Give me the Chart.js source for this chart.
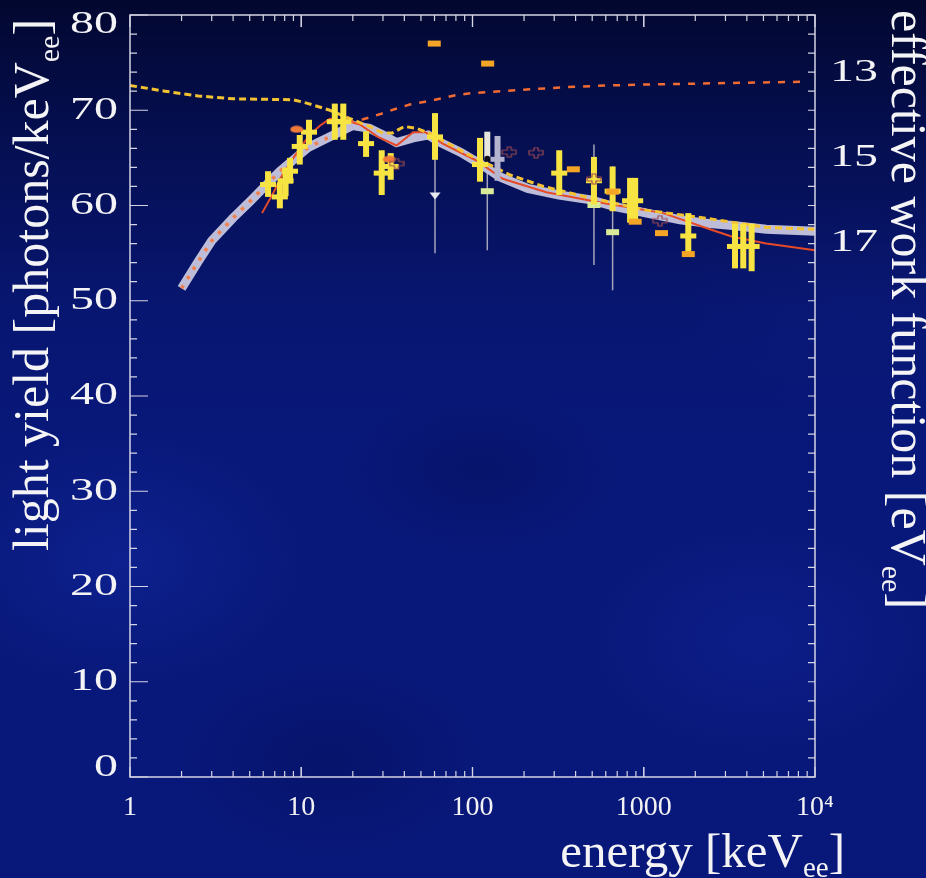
<!DOCTYPE html>
<html>
<head>
<meta charset="utf-8">
<script src="https://cdn.jsdelivr.net/npm/chart.js@4.4.1/dist/chart.umd.min.js"></script>
<style>
  html, body { margin: 0; padding: 0; }
  body {
    width: 926px; height: 878px; overflow: hidden;
    background:
      linear-gradient(to bottom, rgba(1, 3, 28, 0.8) 0%, rgba(1, 3, 28, 0.45) 15%, rgba(1, 3, 28, 0.1) 35%, rgba(1, 3, 28, 0) 50%),
      radial-gradient(ellipse 260px 180px at 120px 560px, rgba(22, 44, 170, 0.4), rgba(22, 44, 170, 0) 70%),
      radial-gradient(ellipse 200px 120px at 480px 470px, rgba(4, 12, 80, 0.35), rgba(4, 12, 80, 0) 70%),
      radial-gradient(ellipse 240px 160px at 760px 640px, rgba(20, 38, 160, 0.4), rgba(20, 38, 160, 0) 70%),
      radial-gradient(ellipse 220px 140px at 330px 760px, rgba(4, 12, 80, 0.35), rgba(4, 12, 80, 0) 70%),
      radial-gradient(ellipse 280px 160px at 860px 300px, rgba(16, 32, 140, 0.35), rgba(16, 32, 140, 0) 70%),
      #08187a;
  }
  canvas { display: block; }
</style>
</head>
<body>
<canvas id="lyChart" width="926" height="878"></canvas>
<script>
// model curves (energy in keVee, light yield in photons/keVee)
const bandE = [2, 2.5, 3, 4, 5, 7.5, 11, 15, 20, 25, 30, 36, 45, 55, 65, 85, 110, 145, 210, 320, 490, 670, 1040, 1630, 2430, 3300, 5200, 10000];
const bandLY = [51.3, 54.1, 56.3, 58.7, 60.4, 63.6, 66.1, 67.3, 68.4, 68.1, 67.4, 66.6, 67.1, 67.4, 66.6, 65.6, 64.4, 63.0, 61.8, 61.1, 60.6, 59.9, 59.2, 58.5, 58.1, 57.9, 57.5, 57.3];
const dottedUpTo = 16;

const goldE = [1, 1.6, 2.5, 4, 9, 11, 14.7, 20, 25, 30, 34, 40, 47, 56, 74, 93, 110, 166, 260, 460, 1040, 2430, 5200, 10000];
const goldLY = [72.6, 72.0, 71.5, 71.2, 71.1, 70.7, 70.0, 69.0, 68.3, 67.6, 67.6, 68.3, 68.1, 67.6, 66.4, 65.4, 64.8, 63.2, 62.0, 60.9, 59.5, 58.6, 57.7, 57.5];

const redE = [5.9, 6.9, 7.9, 9.4, 11.2, 12.9, 14.7, 18.4, 22, 28, 36, 45, 53, 67, 106, 150, 270, 600, 1300, 2430, 3330, 5200, 10000];
const redLY = [59.2, 61.4, 63.5, 65.5, 67.4, 68.4, 69.1, 68.9, 68.5, 67.2, 66.3, 67.7, 67.7, 66.5, 64.7, 62.8, 61.4, 60.2, 59.2, 57.5, 56.7, 56.0, 55.3];

const wfE = [18.5, 23, 29, 35, 43, 53, 66, 81, 99, 180, 330, 610, 1000, 9000];
const wfLY = [68.7, 69.05, 69.6, 70.1, 70.6, 70.9, 71.25, 71.6, 71.8, 72.1, 72.4, 72.6, 72.7, 73.0];

// measurements with error bars
const yelE = [6.4, 7.5, 8.1, 8.6, 9.8, 11.1, 15.7, 17.6, 23.9, 29.5, 33.3, 60.4, 110.6, 321, 512, 658, 832, 891, 1820, 3411, 3811, 4266];
const yelLY = [62.2, 60.9, 62.6, 63.6, 66.2, 67.7, 68.8, 68.8, 66.5, 63.4, 64.1, 67.2, 64.3, 63.4, 62.6, 61.5, 60.5, 60.5, 56.8, 55.7, 55.7, 55.7];
const yelLo = [60.9, 59.7, 61.0, 62.3, 64.3, 66.4, 66.9, 66.9, 65.1, 61.1, 62.7, 64.8, 62.5, 61.1, 60.1, 59.4, 58.2, 58.2, 55.0, 53.4, 53.4, 53.1];
const yelHi = [63.6, 62.4, 64.0, 65.0, 67.4, 69.0, 70.7, 70.7, 67.8, 65.8, 65.5, 69.7, 67.1, 65.8, 65.1, 64.1, 62.9, 62.9, 59.2, 58.1, 58.1, 58.1];

const thinE = [60.4, 122, 512, 658];
const thinLo = [55.0, 55.3, 53.75, 51.1];
const thinHi = [69.7, 67.7, 66.4, 64.1];

const paleE = [122, 140];
const paleLY = [66.3, 64.85];
const paleLo = [64.8, 62.6];
const paleHi = [67.75, 67.3];

const triE = [60.4];
const triLY = [61.0];
const greenE = [122, 512, 658];
const greenLY = [61.5, 60.05, 57.2];
const dotE = [122];
const dotLY = [64.9];

const orangeE = [59.8, 122.6, 388, 658, 891, 1270, 1820];
const orangeLY = [77.0, 74.9, 63.8, 61.45, 58.3, 57.1, 54.9];
const ovalE = [9.4, 32.7];
const ovalLY = [68.0, 64.85];
const hollowE = [36, 164, 235, 512, 1245];
const hollowLY = [64.4, 65.6, 65.55, 62.8, 58.4];

// axes
const energyTicks = [1, 10, 100, 1000, 10000];
const lyTicks = [0, 10, 20, 30, 40, 50, 60, 70, 80];
const wfTicks = [13, 15, 17];
const wfRange = [11.64, 29.56];

const pts = (xs, ys) => xs.map((x, i) => ({ x: x, y: ys[i] }));

function makeSprite(w, h, draw) {
  const c = document.createElement('canvas');
  c.width = w; c.height = h;
  draw(c.getContext('2d'), w, h);
  return c;
}

const ovalSprite = makeSprite(14, 8, (g, w, h) => {
  g.fillStyle = '#f07a3a';
  g.beginPath(); g.ellipse(w / 2, h / 2, 6.5, 3.6, 0, 0, Math.PI * 2); g.fill();
});
const hollowSprite = makeSprite(16, 12, (g) => {
  g.strokeStyle = '#9a4a52'; g.lineWidth = 1.2;
  g.beginPath();
  g.moveTo(6, 1); g.lineTo(10, 1); g.lineTo(10, 4); g.lineTo(15, 4); g.lineTo(15, 8);
  g.lineTo(10, 8); g.lineTo(10, 11); g.lineTo(6, 11); g.lineTo(6, 8); g.lineTo(1, 8);
  g.lineTo(1, 4); g.lineTo(6, 4); g.closePath(); g.stroke();
});
const triSprite = makeSprite(12, 8, (g) => {
  g.fillStyle = '#e8e8f0';
  g.beginPath(); g.moveTo(0.5, 0.5); g.lineTo(11.5, 0.5); g.lineTo(6, 7.5); g.closePath(); g.fill();
});

function curve(label, xs, ys, color, width, dash) {
  return {
    label: label, data: pts(xs, ys), showLine: true, fill: false, tension: 0,
    borderColor: color, borderWidth: width, borderDash: dash || [],
    pointRadius: 0, pointHoverRadius: 0
  };
}

function marks(label, xs, ys, style, opts) {
  return Object.assign({
    label: label, data: pts(xs, ys), showLine: false,
    pointStyle: style, pointRadius: 6, pointHoverRadius: 6,
    pointBackgroundColor: 'transparent', pointBorderColor: 'transparent', pointBorderWidth: 0
  }, opts || {});
}

const bandDotted = bandE.map((e, i) => [e, bandLY[i]]).filter(p => p[0] <= dottedUpTo);

// listed bottom to top
const layers = [
  Object.assign(marks('thin', thinE, thinE.map((e, i) => (thinLo[i] + thinHi[i]) / 2), 'circle', { pointRadius: 0 }),
    { yLow: thinLo, yHigh: thinHi, barColor: '#a4a4bc', barWidth: 1.5 }),
  marks('limit', triE, triLY, triSprite),
  curve('band', bandE, bandLY, '#bdbdd9', 9),
  curve('band dots', bandDotted.map(p => p[0]), bandDotted.map(p => p[1]), '#f2804c', 3.5, [3.5, 7.5]),
  curve('fit', redE, redLY, '#e64a26', 2),
  curve('model', goldE, goldLY, '#f2c232', 3, [7, 4]),
  curve('work function', wfE, wfLY, '#f26b32', 2.5, [7, 8]),
  marks('green', greenE, greenLY, 'line', { pointRadius: 6.5, pointBorderWidth: 6, pointBorderColor: '#d9ea98' }),
  Object.assign(marks('pale', paleE, paleLY, 'line', { pointRadius: [0, 7], pointBorderWidth: 5, pointBorderColor: '#b4b4ce' }),
    { yLow: paleLo, yHigh: paleHi, barColor: ['#e6e6dc', '#b4b4ce'], barWidth: 6 }),
  Object.assign(marks('data', yelE, yelLY, 'line', { pointRadius: 8, pointBorderWidth: 5, pointBorderColor: '#f7e443' }),
    { yLow: yelLo, yHigh: yelHi, barColor: '#f7e443', barWidth: 6 }),
  marks('dot', dotE, dotLY, 'circle', { pointRadius: 3, pointBackgroundColor: '#10101c' }),
  marks('orange', orangeE, orangeLY, 'line', { pointRadius: 6.5, pointBorderWidth: 6, pointBorderColor: '#f5a525' }),
  marks('oval', ovalE, ovalLY, ovalSprite),
  marks('hollow', hollowE, hollowLY, hollowSprite)
];
const datasets = layers.map((ds, i) => Object.assign(ds, { order: layers.length - i }));

const errorBars = {
  id: 'errorBars',
  beforeDatasetDraw(chart, args) {
    const ds = chart.data.datasets[args.index];
    if (!ds.yLow) return;
    const x = chart.scales.x, y = chart.scales.y, ctx = chart.ctx;
    ctx.save();
    ctx.lineWidth = ds.barWidth;
    ds.data.forEach((p, i) => {
      ctx.strokeStyle = Array.isArray(ds.barColor) ? ds.barColor[i] : ds.barColor;
      const px = x.getPixelForValue(p.x);
      ctx.beginPath();
      ctx.moveTo(px, y.getPixelForValue(ds.yLow[i]));
      ctx.lineTo(px, y.getPixelForValue(ds.yHigh[i]));
      ctx.stroke();
    });
    ctx.restore();
  }
};

function drawSubscripted(ctx, main, sub, tail, size) {
  // draws "main" + subscript + "tail" starting at the current origin, baseline at 0
  ctx.font = size + 'px "Liberation Serif"';
  ctx.fillText(main, 0, 0);
  let w = ctx.measureText(main).width;
  const subSize = Math.round(size * 0.6);
  ctx.font = subSize + 'px "Liberation Serif"';
  ctx.fillText(sub, w, size * 0.21);
  w += ctx.measureText(sub).width;
  ctx.font = size + 'px "Liberation Serif"';
  ctx.fillText(tail, w, 0);
}

function subscriptedWidth(ctx, main, sub, tail, size) {
  ctx.font = size + 'px "Liberation Serif"';
  let w = ctx.measureText(main).width + ctx.measureText(tail).width;
  ctx.font = Math.round(size * 0.6) + 'px "Liberation Serif"';
  return w + ctx.measureText(sub).width;
}

const frameAndTitles = {
  id: 'frameAndTitles',
  afterDraw(chart) {
    const ctx = chart.ctx, a = chart.chartArea;
    const x = chart.scales.x, y = chart.scales.y, y2 = chart.scales.y2;
    ctx.save();
    ctx.strokeStyle = '#d4d4e4';
    ctx.lineWidth = 1.5;
    ctx.strokeRect(a.left, a.top, a.right - a.left, a.bottom - a.top);

    // log ticks on bottom and top edges
    ctx.lineWidth = 1.2;
    for (let d = 1; d < 10000; d *= 10) {
      for (let m = 1; m <= 10; m++) {
        const v = d * m;
        if (v > 10000) continue;
        const px = x.getPixelForValue(v);
        const major = energyTicks.includes(v);
        ctx.beginPath();
        ctx.moveTo(px, a.bottom); ctx.lineTo(px, a.bottom - (major ? 10 : 6));
        ctx.moveTo(px, a.top); ctx.lineTo(px, a.top + (major ? 12 : 6));
        ctx.stroke();
      }
    }
    // light yield ticks on left and right edges
    for (let v = 0; v <= 80; v += 2) {
      const py = y.getPixelForValue(v);
      const major = v % 10 === 0;
      ctx.beginPath();
      ctx.moveTo(a.left, py); ctx.lineTo(a.left + (major ? 18 : 7), py);
      ctx.moveTo(a.right, py); ctx.lineTo(a.right - 7, py);
      ctx.stroke();
    }

    ctx.fillStyle = '#f4f4f6';
    ctx.textBaseline = 'middle';
    ctx.font = '32px "Liberation Serif"';
    lyTicks.forEach(v => {
      const py = Math.min(Math.max(y.getPixelForValue(v), a.top + 10), a.bottom - 9);
      ctx.save();
      ctx.translate(a.left - 12, py);
      ctx.scale(1.5, 1);
      ctx.textAlign = 'right';
      ctx.fillText(String(v), 0, 0);
      ctx.restore();
    });
    wfTicks.forEach(v => {
      ctx.save();
      ctx.translate(a.right + 15, y2.getPixelForValue(v));
      ctx.scale(1.5, 1);
      ctx.textAlign = 'left';
      ctx.fillText(String(v), 0, 0);
      ctx.restore();
    });

    // axis titles
    ctx.textBaseline = 'alphabetic';
    ctx.textAlign = 'left';
    const size = 49;
    const xw = subscriptedWidth(ctx, 'energy [keV', 'ee', ']', size);
    ctx.save();
    ctx.translate(845 - xw, 867);
    drawSubscripted(ctx, 'energy [keV', 'ee', ']', size);
    ctx.restore();

    const yw = subscriptedWidth(ctx, 'light yield [photons/keV', 'ee', ']', 50);
    ctx.save();
    ctx.translate(48, 285 + yw / 2);
    ctx.rotate(-Math.PI / 2);
    drawSubscripted(ctx, 'light yield [photons/keV', 'ee', ']', 50);
    ctx.restore();

    ctx.save();
    ctx.translate(892, 10);
    ctx.rotate(Math.PI / 2);
    drawSubscripted(ctx, 'effective work function [eV', 'ee', ']', 50);
    ctx.restore();
    ctx.restore();
  }
};

const ctx = document.getElementById('lyChart').getContext('2d');
const chart = new Chart(ctx, {
  type: 'scatter',
  data: { datasets: datasets },
  options: {
    responsive: false,
    animation: false,
    layout: { padding: { top: 15, left: 0, right: 0, bottom: 0 } },
    plugins: {
      legend: { display: false },
      tooltip: { enabled: false }
    },
    scales: {
      x: {
        type: 'logarithmic',
        min: 1,
        max: 10000,
        position: 'bottom',
        grid: { display: false, drawTicks: false },
        border: { display: false },
        afterBuildTicks: s => { s.ticks = energyTicks.map(v => ({ value: v, major: true })); },
        afterFit: s => { s.height = 101; },
        ticks: {
          autoSkip: false,
          maxRotation: 0,
          padding: 14,
          color: '#f2f2f4',
          font: { family: 'Liberation Serif', size: 28 },
          callback: v => (v === 10000 ? '10\u2074' : String(v))
        }
      },
      y: {
        min: 0,
        max: 80,
        position: 'left',
        grid: { display: false, drawTicks: false },
        border: { display: false },
        ticks: { display: false },
        afterFit: s => { s.width = 130; }
      },
      y2: {
        min: wfRange[0],
        max: wfRange[1],
        reverse: true,
        position: 'right',
        grid: { display: false, drawTicks: false },
        border: { display: false },
        ticks: { display: false },
        afterFit: s => { s.width = 111; }
      }
    }
  },
  plugins: [errorBars, frameAndTitles]
});
</script>
</body>
</html>
